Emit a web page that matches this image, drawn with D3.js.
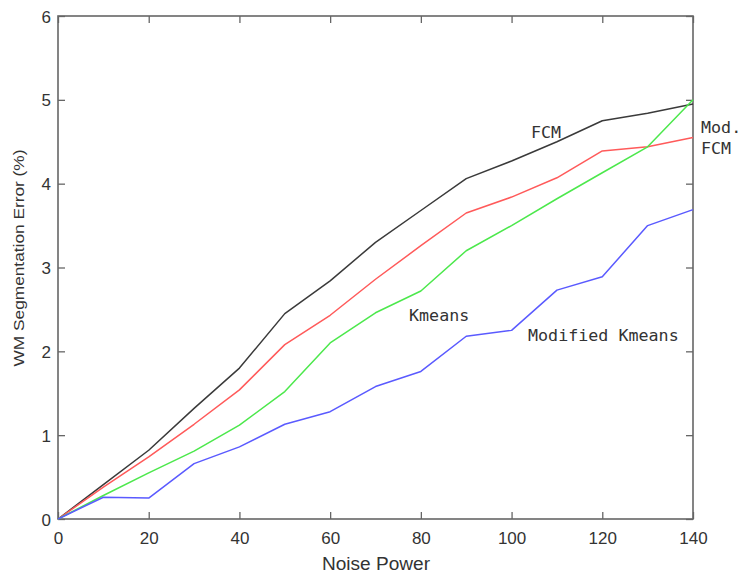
<!DOCTYPE html>
<html>
<head>
<meta charset="utf-8">
<script src="https://cdn.jsdelivr.net/npm/d3@7"></script>
<style>
html,body{margin:0;padding:0;background:#fff;}
svg{display:block;}
</style>
</head>
<body>
<script>
const noisePower = [0,10,20,30,40,50,60,70,80,90,100,110,120,130,140];
const fcm        = [0,0.41,0.82,1.32,1.80,2.45,2.84,3.30,3.68,4.06,4.27,4.50,4.75,4.84,4.95];
const modFcm     = [0,0.38,0.74,1.13,1.54,2.08,2.43,2.86,3.26,3.65,3.84,4.07,4.39,4.44,4.55];
const kmeans     = [0,0.28,0.55,0.81,1.12,1.52,2.10,2.46,2.72,3.20,3.50,3.82,4.13,4.44,5.00];
const modKmeans  = [0,0.26,0.25,0.66,0.86,1.13,1.28,1.58,1.76,2.18,2.25,2.73,2.89,3.50,3.69];
const xTicks = [0,20,40,60,80,100,120,140];
const yTicks = [0,1,2,3,4,5,6];
const seriesNames = ["FCM","Mod. FCM","Kmeans","Modified Kmeans"];
const seriesColors = ["#3a3a3a","#ff5a5a","#4ce84c","#5a5aff"];

const W = 740, H = 580;
const svg = d3.select("body").append("svg").attr("width", W).attr("height", H);
const x = d3.scaleLinear().domain([0,140]).range([58,693]);
const y = d3.scaleLinear().domain([0,6]).range([519,16]);

const frameColor = "#666";
const tickLen = 7;
const fmt = d3.format("d");

// axes with inward ticks
const gB = svg.append("g").attr("transform",`translate(0,${y(0)})`)
  .call(d3.axisBottom(x).tickValues(xTicks).tickFormat(fmt).tickSizeInner(-tickLen).tickSizeOuter(0));
const gT = svg.append("g").attr("transform",`translate(0,${y(6)})`)
  .call(d3.axisTop(x).tickValues(xTicks).tickSizeInner(-tickLen).tickSizeOuter(0).tickFormat(""));
const gL = svg.append("g").attr("transform",`translate(${x(0)},0)`)
  .call(d3.axisLeft(y).tickValues(yTicks).tickFormat(fmt).tickSizeInner(-tickLen).tickSizeOuter(0));
const gR = svg.append("g").attr("transform",`translate(${x(140)},0)`)
  .call(d3.axisRight(y).tickValues(yTicks).tickSizeInner(-tickLen).tickSizeOuter(0).tickFormat(""));

[gB,gT,gL,gR].forEach(g=>{
  g.select(".domain").remove();
  g.selectAll(".tick line").attr("stroke",frameColor).attr("stroke-width",1.3);
  g.selectAll(".tick text").attr("fill","#333")
    .style("font-family","'Liberation Sans Narrow','Liberation Sans',Arial,sans-serif")
    .style("font-size","17px");
});
gL.selectAll(".tick text").attr("x",-7).attr("dy","0.36em");
gB.selectAll(".tick text").attr("y",13).attr("dy","0.71em");

// frame
svg.append("rect")
  .attr("x",x(0)).attr("y",y(6))
  .attr("width",x(140)-x(0)).attr("height",y(0)-y(6))
  .attr("fill","none").attr("stroke",frameColor).attr("stroke-width",1.6);

// lines
const allSeries = [fcm, modFcm, kmeans, modKmeans];
const line = d3.line().x((d,i)=>x(noisePower[i])).y(d=>y(d));
svg.append("g").selectAll("path").data(allSeries).join("path")
  .attr("d", line)
  .attr("fill","none")
  .attr("stroke",(d,i)=>seriesColors[i])
  .attr("stroke-width",1.5)
  .attr("stroke-linejoin","round");

// annotations
const mono = "'DejaVu Sans Mono','Liberation Mono',monospace";
const notes = [
  {t:"FCM", x:531, y:138},
  {t:"Mod.", x:701, y:133},
  {t:"FCM", x:701, y:154},
  {t:"Kmeans", x:409, y:321},
  {t:"Modified Kmeans", x:528, y:341}
];
svg.append("g").selectAll("text").data(notes).join("text")
  .attr("x",d=>d.x).attr("y",d=>d.y)
  .text(d=>d.t)
  .attr("fill","#333")
  .style("font-family",mono)
  .style("font-size","16.7px");

// axis labels
svg.append("text")
  .attr("x",(x(0)+x(140))/2 + 0.5).attr("y",570)
  .attr("text-anchor","middle")
  .attr("fill","#333")
  .attr("textLength",108).attr("lengthAdjust","spacingAndGlyphs")
  .style("font-family","'Liberation Sans',Arial,sans-serif")
  .style("font-size","18px")
  .text("Noise Power");

svg.append("text")
  .attr("transform","translate(24,258) rotate(-90)")
  .attr("text-anchor","middle")
  .attr("fill","#333")
  .attr("textLength",217).attr("lengthAdjust","spacingAndGlyphs")
  .style("font-family","'Liberation Sans',Arial,sans-serif")
  .style("font-size","15px")
  .text("WM Segmentation Error (%)");
</script>
</body>
</html>
